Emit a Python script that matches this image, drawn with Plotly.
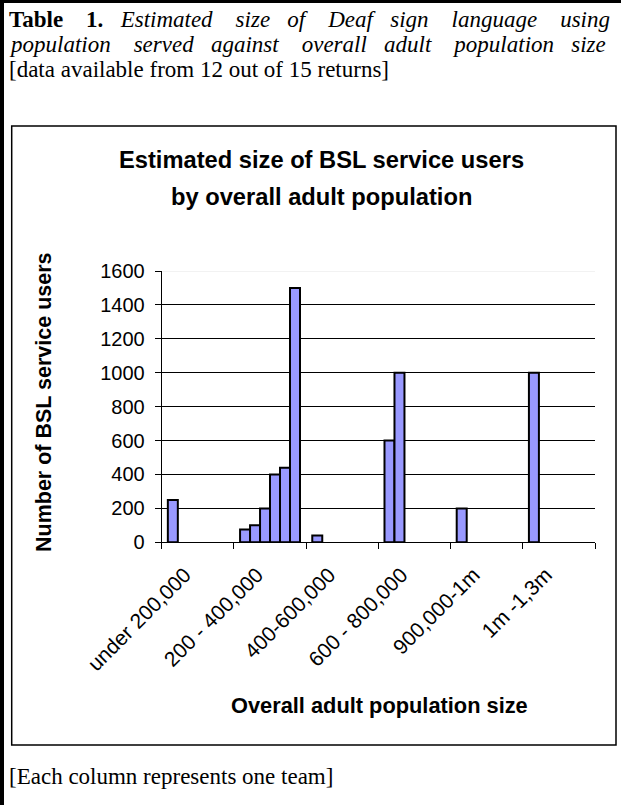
import plotly.graph_objects as go

W, H = 621, 805

categories = ["under 200,000", "200 - 400,000", "400-600,000",
              "600 - 800,000", "900,000-1m", "1m -1,3m"]
# each list = one column slot within the cluster (one team per column)
team_col_1 = [250, 75, 40, 600, 200, 1000]
team_col_2 = [None, 100, None, 1000, None, None]
team_col_3 = [None, 200, None, None, None, None]
team_col_4 = [None, 400, None, None, None, None]
team_col_5 = [None, 440, None, None, None, None]
team_col_6 = [None, 1500, None, None, None, None]
columns = [team_col_1, team_col_2, team_col_3, team_col_4, team_col_5, team_col_6]
y_ticks = [0, 200, 400, 600, 800, 1000, 1200, 1400, 1600]


def px(x):
    return x / W


def py(y):
    return 1 - y / H


NB = "\u00a0"


def justify(words, extras):
    out = words[0]
    for w, e in zip(words[1:], extras):
        out += " " + NB * e + w
    return out


fig = go.Figure()
for col in columns:
    fig.add_trace(go.Bar(x=categories, y=col, marker=dict(color="#9999FF",
                         line=dict(color="black", width=2)),
                         showlegend=False, hoverinfo="skip"))

ARIAL = "Liberation Sans, Arial, sans-serif"
TIMES = "Liberation Serif, Times New Roman, serif"

fig.update_layout(
    width=W, height=H, margin=dict(l=0, r=0, t=0, b=0, pad=0, autoexpand=False),
    paper_bgcolor="white", plot_bgcolor="white", showlegend=False,
    barmode="group", bargap=0.17, bargroupgap=0,
    xaxis=dict(domain=[px(161.7), px(595)], type="category", automargin=False,
               showline=True, linecolor="black", linewidth=1,
               ticks="outside", tickson="boundaries", ticklen=6, tickcolor="black",
               tickangle=-45, ticklabelstandoff=11, ticklabelshift=-13,
               tickfont=dict(family=ARIAL, size=21, color="black"),
               showgrid=False),
    yaxis=dict(domain=[py(542.3), py(271)], range=[0, 1600], automargin=False,
               tickvals=y_ticks, ticktext=[str(v) for v in y_ticks],
               showline=True, linecolor="black", linewidth=1,
               ticks="outside", ticklen=6, tickcolor="black", ticklabelstandoff=6,
               tickfont=dict(family=ARIAL, size=20, color="black"),
               showgrid=True, gridcolor="black", gridwidth=1, zeroline=False),
)

shapes = [
    # outer table frame: thick left line, top line
    dict(type="line", xref="paper", yref="paper", x0=px(2), x1=px(2), y0=0, y1=1,
         line=dict(color="black", width=4)),
    dict(type="line", xref="paper", yref="paper", x0=0, x1=1, y0=py(1.5), y1=py(1.5),
         line=dict(color="black", width=3)),
    # chart frame
    dict(type="rect", xref="paper", yref="paper", x0=px(11.7), x1=px(616),
         y0=py(745), y1=py(126), line=dict(color="black", width=1.5)),
    # faint top border of plot area at 1600
    dict(type="line", xref="paper", yref="y", x0=px(162.5), x1=px(595), y0=1600, y1=1600,
         line=dict(color="#eeeeee", width=1.5)),
]
fig.update_layout(shapes=shapes)

line1 = justify(["<b>Table", "1.</b>", "<i>Estimated", "size", "of", "Deaf", "sign",
                 "language", "using</i>"], [3, 2, 3, 2, 3, 2, 3, 3])
line2 = justify(["<i>population", "served", "against", "overall", "adult",
                 "population", "size</i>"], [3, 2, 3, 2, 3, 2])

ann = [
    dict(text=line1, x=px(7), y=py(19), xanchor="left", yanchor="middle",
         font=dict(family=TIMES, size=23, color="black")),
    dict(text=line2, x=px(7), y=py(45), xanchor="left", yanchor="middle",
         font=dict(family=TIMES, size=23, color="black")),
    dict(text="[data available from 12 out of 15 returns]",
         x=px(7), y=py(70), xanchor="left", yanchor="middle",
         font=dict(family=TIMES, size=23, color="black")),
    dict(text="[Each column represents one team]",
         x=px(7), y=py(776), xanchor="left", yanchor="middle",
         font=dict(family=TIMES, size=23, color="black")),
    dict(text="<b>Estimated size of BSL service users</b>",
         x=px(321), y=py(160), xanchor="center", yanchor="middle",
         font=dict(family=ARIAL, size=23.7, color="black")),
    dict(text="<b>by overall adult population</b>",
         x=px(321), y=py(197), xanchor="center", yanchor="middle",
         font=dict(family=ARIAL, size=23.7, color="black")),
    dict(text="<b>Number of BSL service users</b>", textangle=-90,
         x=px(44), y=py(402), xanchor="center", yanchor="middle",
         font=dict(family=ARIAL, size=21.5, color="black")),
    dict(text="<b>Overall adult population size</b>",
         x=px(379), y=py(705), xanchor="center", yanchor="middle",
         font=dict(family=ARIAL, size=21.8, color="black")),
]
for a in ann:
    a.update(xref="paper", yref="paper", showarrow=False)
fig.update_layout(annotations=ann)

fig.write_html("out.html")
